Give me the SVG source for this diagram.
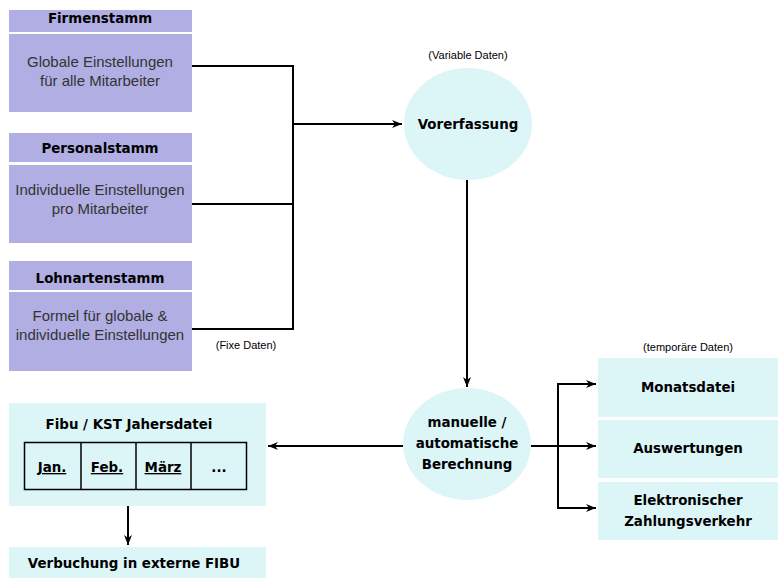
<svg xmlns="http://www.w3.org/2000/svg" width="778" height="578" viewBox="0 0 778 578">
<style>
.p{fill:#b1aee4}
.c{fill:#dcf5f7}
.b{font-family:"DejaVu Sans",Verdana,sans-serif;font-weight:bold;font-size:13.4px;fill:#000;text-anchor:middle}
.r{font-family:"Liberation Sans",Arial,sans-serif;font-size:15px;fill:#333;text-anchor:middle}
.s{font-family:"Liberation Sans",Arial,sans-serif;font-size:11px;fill:#000;text-anchor:middle}
.ln{fill:none;stroke:#000;stroke-width:2}
.t{fill:none;stroke:#000;stroke-width:1.5}
</style>
<defs>
<marker id="a" viewBox="0 0 10 10" refX="10" refY="5" markerWidth="5" markerHeight="5" orient="auto" markerUnits="strokeWidth">
<path d="M0,1 L10,5 L0,9 L3,5 Z" fill="#000"/>
</marker>
</defs>
<rect width="778" height="578" fill="#fff"/>
<g id="firmenstamm">
<rect class="p" x="9" y="10" width="183" height="22"/>
<rect class="p" x="9" y="34" width="183" height="78"/>
<text class="b" x="100" y="23">Firmenstamm</text>
<text class="r" x="100" y="67">Globale Einstellungen</text>
<text class="r" x="100" y="86">für alle Mitarbeiter</text>
</g>
<g id="personalstamm">
<rect class="p" x="9" y="133" width="183" height="29"/>
<rect class="p" x="9" y="165" width="183" height="78"/>
<text class="b" x="100" y="153">Personalstamm</text>
<text class="r" x="100" y="195">Individuelle Einstellungen</text>
<text class="r" x="100" y="214">pro Mitarbeiter</text>
</g>
<g id="lohnartenstamm">
<rect class="p" x="9" y="261" width="183" height="29"/>
<rect class="p" x="9" y="292" width="183" height="79"/>
<text class="b" x="100" y="283">Lohnartenstamm</text>
<text class="r" x="100" y="321">Formel für globale &amp;</text>
<text class="r" x="100" y="340">individuelle Einstellungen</text>
</g>
<text class="s" x="246" y="349">(Fixe Daten)</text>
<g id="vorerfassung">
<text class="s" x="468" y="59">(Variable Daten)</text>
<ellipse class="c" cx="468" cy="124" rx="64" ry="56"/>
<text class="b" x="468" y="129">Vorerfassung</text>
</g>
<g id="berechnung">
<ellipse class="c" cx="467" cy="444" rx="64" ry="56"/>
<text class="b" x="467" y="427">manuelle /</text>
<text class="b" x="467" y="448">automatische</text>
<text class="b" x="467" y="469">Berechnung</text>
</g>
<text class="s" x="688" y="351">(temporäre Daten)</text>
<g id="monatsdatei">
<rect class="c" x="598" y="358" width="180" height="59"/>
<text class="b" x="688" y="392">Monatsdatei</text>
</g>
<g id="auswertungen">
<rect class="c" x="598" y="420" width="180" height="58"/>
<text class="b" x="688" y="453">Auswertungen</text>
</g>
<g id="zahlungsverkehr">
<rect class="c" x="598" y="482" width="180" height="58"/>
<text class="b" x="688" y="505">Elektronischer</text>
<text class="b" x="688" y="526">Zahlungsverkehr</text>
</g>
<g id="fibu">
<rect class="c" x="9" y="403" width="257" height="103"/>
<text class="b" x="129" y="429">Fibu / KST Jahersdatei</text>
<rect class="t" x="24.5" y="442.5" width="222" height="47"/>
<line class="t" x1="81" y1="442" x2="81" y2="490"/>
<line class="t" x1="136" y1="442" x2="136" y2="490"/>
<line class="t" x1="191" y1="442" x2="191" y2="490"/>
<text class="b" x="52" y="472" text-decoration="underline">Jan.</text>
<text class="b" x="107" y="472" text-decoration="underline">Feb.</text>
<text class="b" x="163" y="472" text-decoration="underline">März</text>
<text class="b" x="219" y="472">...</text>
</g>
<g id="verbuchung">
<rect class="c" x="9" y="547" width="257" height="31"/>
<text class="b" x="134" y="568">Verbuchung in externe FIBU</text>
</g>
<g id="connectors">
<polyline class="ln" points="192,66 293,66 293,329 192,329"/>
<line class="ln" x1="192" y1="204" x2="293" y2="204"/>
<line class="ln" x1="293" y1="124" x2="402" y2="124" marker-end="url(#a)"/>
<line class="ln" x1="467" y1="180" x2="467" y2="387" marker-end="url(#a)"/>
<line class="ln" x1="403" y1="446" x2="268" y2="446" marker-end="url(#a)"/>
<line class="ln" x1="531" y1="446" x2="558" y2="446"/>
<polyline class="ln" points="596,384 558,384 558,508 596,508"/>
<line class="ln" x1="558" y1="384" x2="596" y2="384" marker-end="url(#a)"/>
<line class="ln" x1="558" y1="446" x2="596" y2="446" marker-end="url(#a)"/>
<line class="ln" x1="558" y1="508" x2="596" y2="508" marker-end="url(#a)"/>
<line class="ln" x1="128" y1="506" x2="128" y2="545" marker-end="url(#a)"/>
</g>
</svg>
